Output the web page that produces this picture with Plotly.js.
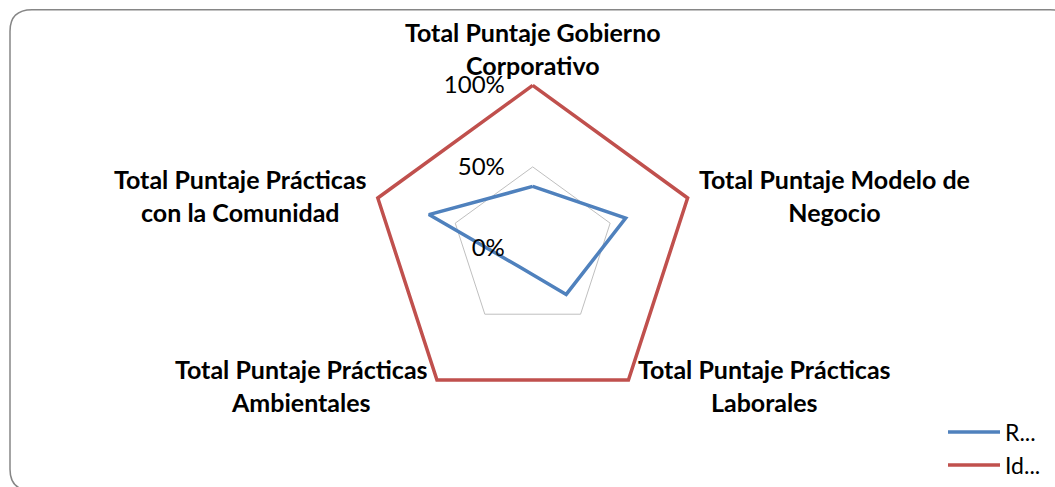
<!DOCTYPE html>
<html>
<head>
<meta charset="utf-8">
<script src="https://cdn.plot.ly/plotly-3.0.1.min.js"></script>
<style>html,body{margin:0;padding:0;background:#fff;}#chart{width:1055px;height:487px;}</style>
</head>
<body>
<div id="chart"></div>
<script>
var categories = [
  "Total Puntaje Gobierno<br>Corporativo",
  "Total Puntaje Modelo de<br>Negocio",
  "Total Puntaje Prácticas<br>Laborales",
  "Total Puntaje Prácticas<br>Ambientales",
  "Total Puntaje Prácticas<br>con la Comunidad"
];
var seriesNames = ["R...", "Id..."];
var realValues = [0.38, 0.60, 0.35, 0.14, 0.67];
var idealValues = [1, 1, 1, 1, 1];
var radialTickVals = [0, 0.5, 1];
var radialTickText = ["0%", "50%", "100%"];

function closeLoop(a){ return a.concat([a[0]]); }

var traces = [
  {type:'scatterpolar', mode:'lines', name: seriesNames[0],
   r: closeLoop(realValues), theta: closeLoop(categories),
   line:{color:'#4F81BD', width:3.5}},
  {type:'scatterpolar', mode:'lines', name: seriesNames[1],
   r: closeLoop(idealValues), theta: closeLoop(categories),
   line:{color:'#C0504D', width:3.5}}
];

var W = 1055, H = 487;
function px(x){return x/W;} function py(y){return 1 - y/H;}
var x0=10, y0=10, x1=1072, y1=503, rr=22;
var path = 'M'+px(x0+rr)+','+py(y0)+' L'+px(x1-rr)+','+py(y0)+' Q'+px(x1)+','+py(y0)+' '+px(x1)+','+py(y0+rr)+
  ' L'+px(x1)+','+py(y1-rr)+' Q'+px(x1)+','+py(y1)+' '+px(x1-rr)+','+py(y1)+
  ' L'+px(x0+rr)+','+py(y1)+' Q'+px(x0)+','+py(y1)+' '+px(x0)+','+py(y1-rr)+
  ' L'+px(x0)+','+py(y0+rr)+' Q'+px(x0)+','+py(y0)+' '+px(x0+rr)+','+py(y0)+' Z';

// polar geometry (pixels): radius of the 100% ring, and a small headroom so the outer line is not clipped
var cx = 532.7, cy = 254.6, R = 167, rMax = 1.03;
var Rd = R * rMax;

// category labels placed just outside each vertex of the outer ring
var annotations = categories.map(function(txt, i){
  var n = categories.length;
  var ang = Math.PI/2 - i*2*Math.PI/n;
  var c = Math.cos(ang), s = Math.sin(ang);
  var vx = cx + R*c, vy = cy - R*s;
  var xa, ya, ax, ay;
  if (s > 0.9) { xa = 'center'; ya = 'bottom'; ax = vx; ay = vy - 4; }
  else {
    xa = c > 0 ? 'left' : 'right';
    ya = 'middle';
    ax = vx + (c > 0 ? 5 : -5);
    ay = vy + (s > 0 ? -3 : 6);
  }
  return {text: txt, xref:'paper', yref:'paper', x: px(ax), y: py(ay), xanchor: xa, yanchor: ya,
          showarrow:false, align:'center',
          font:{family:'Lato, "Open Sans", sans-serif', size:25, color:'#000', weight:'bold'}};
});

var layout = {
  width: W, height: H,
  margin:{l:0,r:0,t:0,b:0},
  paper_bgcolor:'#fff',
  font:{family:'Lato, "Open Sans", sans-serif', color:'#000', size:24},
  showlegend:true,
  legend:{x:px(943), y:py(421), xanchor:'left', yanchor:'top', itemwidth:52,
    font:{size:23, family:'Lato'}, bgcolor:'rgba(0,0,0,0)', tracegroupgap:0},
  polar:{
    domain:{x:[px(cx-Rd), px(cx+Rd)], y:[py(cy+Rd), py(cy-Rd)]},
    bgcolor:'rgba(0,0,0,0)',
    gridshape:'linear',
    angularaxis:{rotation:90, direction:'clockwise', showgrid:false, showline:false, ticks:'', showticklabels:false},
    radialaxis:{range:[0,rMax], angle:90, side:'counterclockwise', tickvals:radialTickVals, ticktext:radialTickText,
      showline:false, ticks:'outside', ticklen:19, tickcolor:'rgba(0,0,0,0)', gridcolor:'#BFBFBF', gridwidth:1,
      tickfont:{family:'Lato', size:24, color:'#000'}, tickangle:90}
  },
  annotations: annotations,
  shapes:[{type:'path', xref:'paper', yref:'paper', path:path, line:{color:'#868686', width:1.5}, fillcolor:'rgba(0,0,0,0)'}]
};
Plotly.newPlot('chart', traces, layout, {displayModeBar:false, staticPlot:true});
</script>
</body>
</html>
